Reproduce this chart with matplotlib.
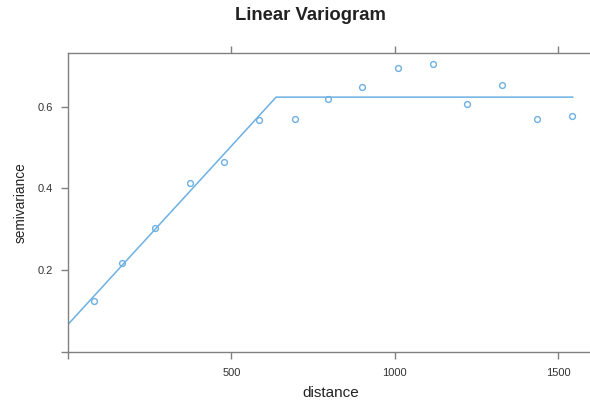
import matplotlib
matplotlib.use("Agg")
import matplotlib.pyplot as plt

plt.rcParams['font.family'] = ['Liberation Sans', 'DejaVu Sans']

distance = [80, 166, 267, 373, 478, 584, 694, 797, 901, 1011, 1117, 1220, 1327, 1437, 1543]
gamma = [0.125, 0.218, 0.304, 0.414, 0.465, 0.566, 0.570, 0.619, 0.648, 0.693, 0.704, 0.606, 0.653, 0.569, 0.576]

model_x = [0, 637, 1545]
model_y = [0.068, 0.623, 0.623]

x_ticks = [0, 500, 1000, 1500]
x_labels = ["", "500", "1000", "1500"]
top_ticks = [500, 1000, 1500]
y_ticks = [0.0, 0.2, 0.4, 0.6]
y_labels = ["", "0.2", "0.4", "0.6"]

W, H = 590, 403
fig = plt.figure(figsize=(W / 100, H / 100), dpi=100)
left, right, top, bottom = 68, 593, 53.3, 352.3
ax = fig.add_axes([left / W, 1 - bottom / H, (right - left) / W, (bottom - top) / H])

col = '#6db0e2'
axcol = '#808080'
ax.plot(model_x, model_y, color=col, lw=1.1)
ax.plot(distance, gamma, linestyle='none', marker='o', markersize=4.2,
        markerfacecolor='none', markeredgecolor=col, markeredgewidth=1.0)

ax.set_xlim(0, (right - left) / 0.3267)
ax.set_ylim(0, 0.73)
ax.set_xticks(x_ticks)
ax.set_xticklabels(x_labels)
ax.set_yticks(y_ticks)
ax.set_yticklabels(y_labels)

for s in ax.spines.values():
    s.set_color(axcol)
    s.set_linewidth(1.0)
ax.tick_params(direction='out', length=5, width=1.0, color=axcol,
               labelsize=8, labelcolor='#333333', pad=6)

sec = ax.secondary_xaxis('top')
sec.set_xticks(top_ticks)
sec.set_xticklabels([])
sec.tick_params(direction='out', length=5, width=1.0, color=axcol)
sec.spines['top'].set_visible(False)

ax.set_xlabel('distance', fontsize=11, color='#222222', labelpad=6)
ax.set_ylabel('semivariance', fontsize=9.8, color='#222222', labelpad=7)
fig.text(310 / W, 1 - 15 / H, 'Linear Variogram', ha='center', va='center',
         fontsize=13.3, fontweight='bold', color='#222222')

fig.savefig('out.png', dpi=100)
